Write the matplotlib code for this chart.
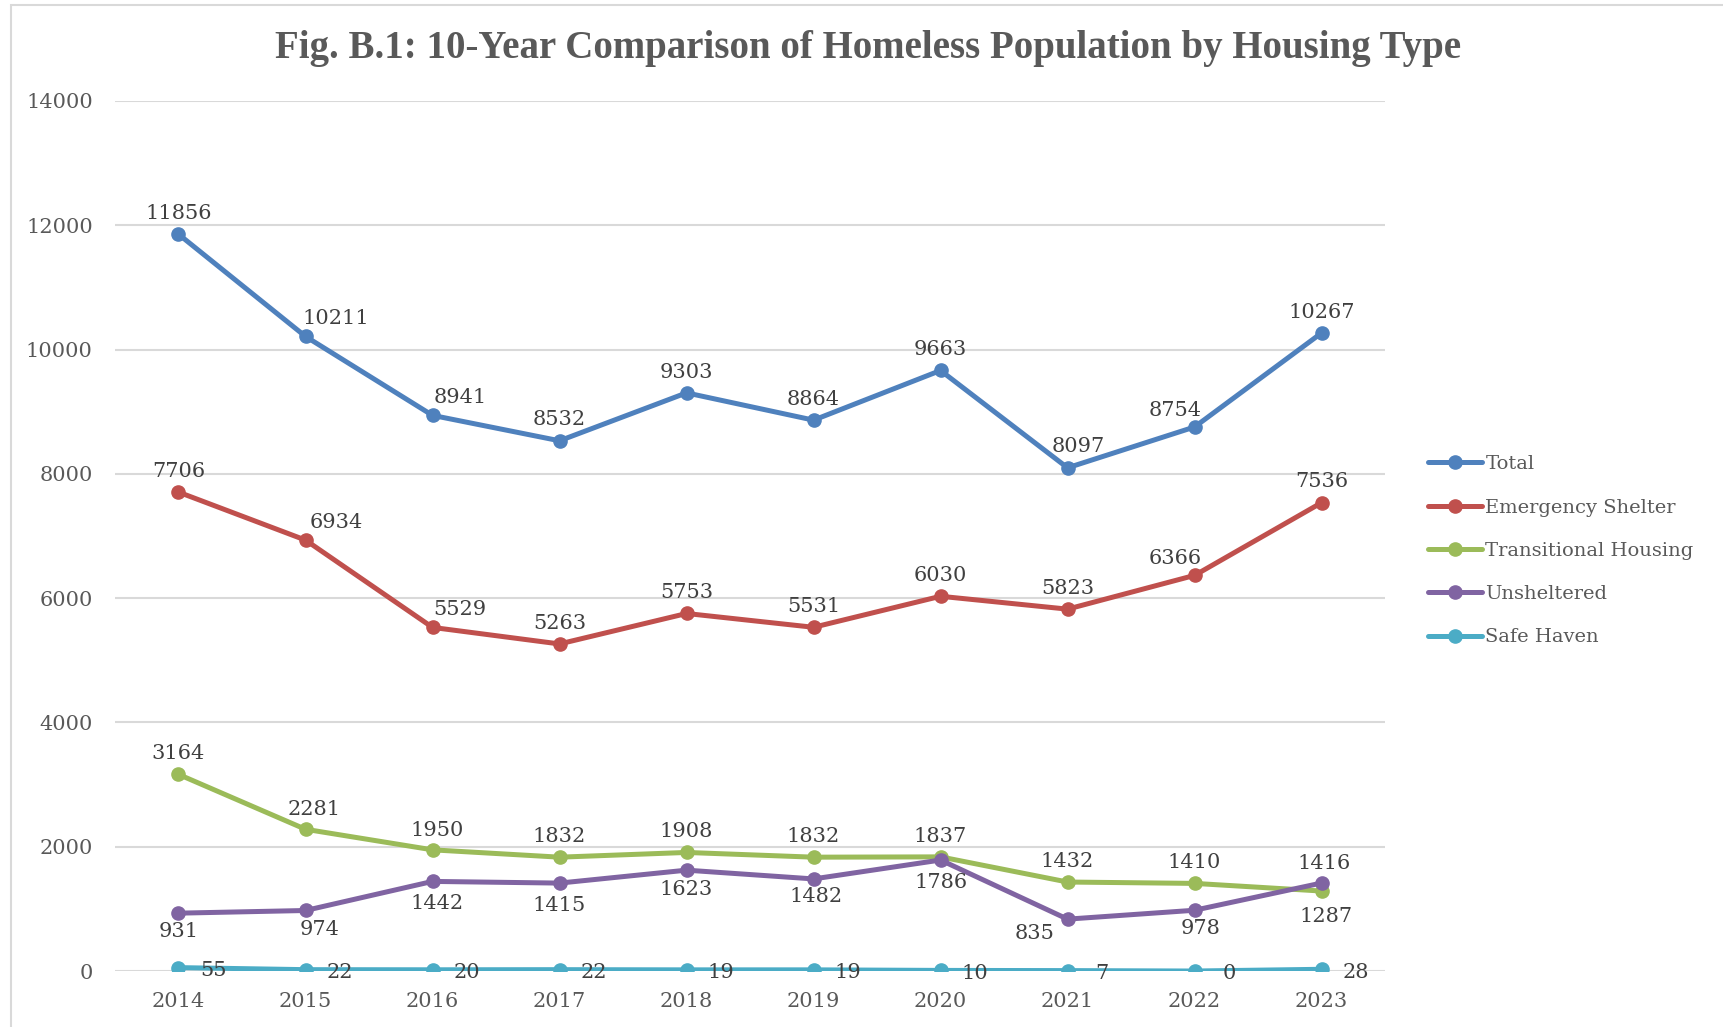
import matplotlib
matplotlib.use('Agg')
import matplotlib.pyplot as plt
from matplotlib.patches import Rectangle

years = ['2014', '2015', '2016', '2017', '2018', '2019', '2020', '2021', '2022', '2023']
total = [11856, 10211, 8941, 8532, 9303, 8864, 9663, 8097, 8754, 10267]
emergency = [7706, 6934, 5529, 5263, 5753, 5531, 6030, 5823, 6366, 7536]
transitional = [3164, 2281, 1950, 1832, 1908, 1832, 1837, 1432, 1410, 1287]
unsheltered = [931, 974, 1442, 1415, 1623, 1482, 1786, 835, 978, 1416]
safe_haven = [55, 22, 20, 22, 19, 19, 10, 7, 0, 28]

names = ['Total', 'Emergency Shelter', 'Transitional Housing', 'Unsheltered', 'Safe Haven']
colors = ['#4F81BD', '#C0504D', '#9BBB59', '#8064A2', '#4BACC6']

# label placement per series: (dx, dy) offsets in points
up = (0, 15)
right = (25, -2)
label_pos = [
    [up, (22, 13), (20, 13), up, up, up, up, (8, 15), (-14, 12), up],
    [up, (22, 13), (20, 13), up, up, up, up, up, (-14, 12), up],
    [up, (6, 14), (3, 14), up, up, up, up, up, up, (3, -18)],
    [(0, -13), (10, -14), (3, -16), (0, -16), (0, -14), (2, -13), (0, -16), (-24, -10), (4, -13), (2, 14)],
    [right] * 10,
]

plt.rcParams['font.family'] = 'DejaVu Serif'

fig = plt.figure(figsize=(17.24, 10.27), dpi=100)
ax = fig.add_axes([0.0667, 0.0545, 0.8034 - 0.0667, 0.9017 - 0.0545])

x = list(range(len(years)))
series = [total, emergency, transitional, unsheltered, safe_haven]
for vals, name, col, offs in zip(series, names, colors, label_pos):
    ax.plot(x, vals, color=col, lw=3.6, marker='o', ms=9.5, label=name,
            solid_capstyle='round', zorder=3)
    for xi, v, (dx, dy) in zip(x, vals, offs):
        ax.annotate(str(v), (xi, v), xytext=(dx, dy), textcoords='offset points',
                    ha='center', va='center', fontsize=15, color='#404040', zorder=4)

ax.set_xlim(-0.5, 9.5)
ax.set_ylim(0, 14000)
ax.set_yticks(range(0, 14001, 2000))
ax.set_xticks(x)
ax.set_xticklabels(years)
ax.yaxis.grid(True, color='#D9D9D9', lw=1.5)
ax.set_axisbelow(True)
for s in ax.spines.values():
    s.set_visible(False)
ax.tick_params(length=0, labelsize=15, labelcolor='#595959')
ax.tick_params(axis='y', pad=16)
ax.tick_params(axis='x', pad=15)

fig.text(0.5035, 0.953, 'Fig. B.1: 10-Year Comparison of Homeless Population by Housing Type',
         ha='center', va='center', fontsize=28, fontweight='bold', color='#595959',
         family='Liberation Serif')

leg = ax.legend(loc='center left', bbox_to_anchor=(1.02, 0.483), frameon=False,
                fontsize=14, handlelength=2.8, handletextpad=0.15, labelspacing=1.3,
                labelcolor='#595959')

fig.patches.append(Rectangle((11 / 1724, -0.01), 1.0, 1 - 5 / 1027 + 0.01,
                             transform=fig.transFigure, fill=False,
                             edgecolor='#D9D9D9', lw=1.5))

fig.savefig('out.png', dpi=100)
